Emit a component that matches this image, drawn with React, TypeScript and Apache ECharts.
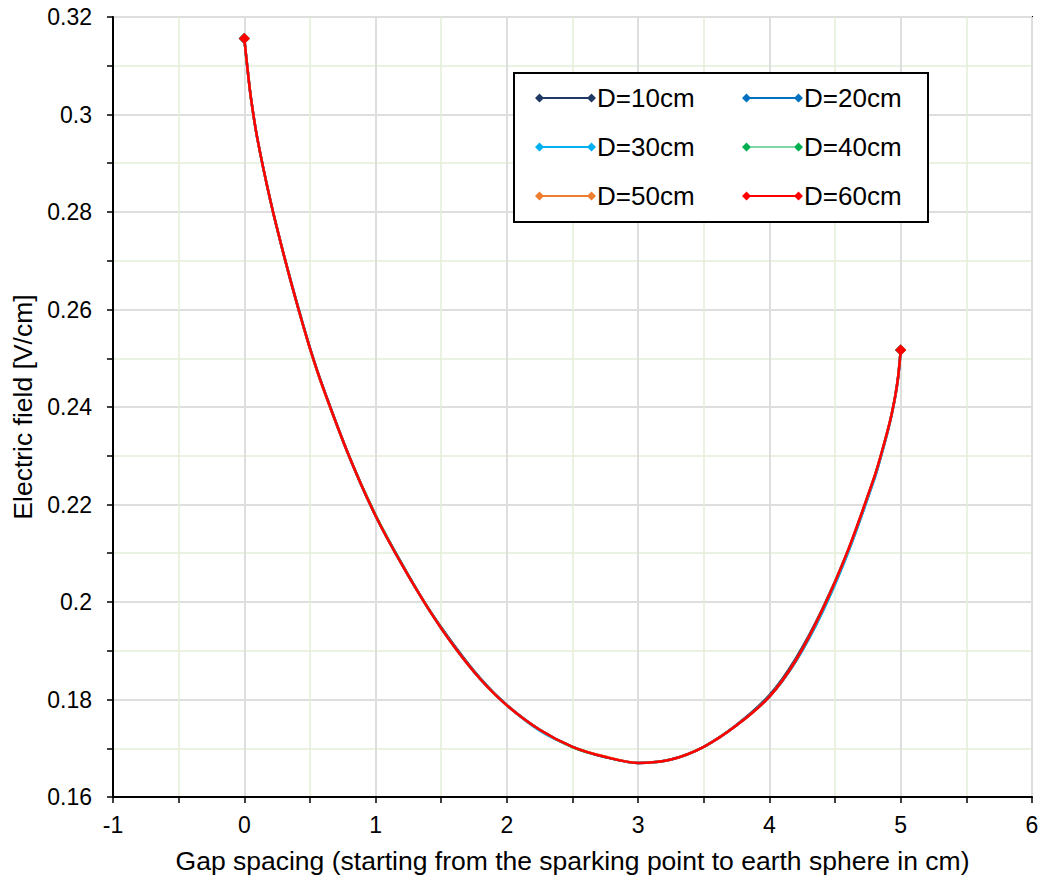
import React, { useEffect, useRef } from "react";
import * as echarts from "echarts";

const xValues = [0, 0.02, 0.05, 0.1, 0.2, 0.3, 0.4, 0.5, 0.6, 0.8, 1.0, 1.2, 1.4, 1.6, 1.8, 2.0, 2.25, 2.5, 2.75, 3.0, 3.25, 3.5, 3.75, 4.0, 4.2, 4.4, 4.6, 4.8, 4.85, 4.9, 4.93, 4.96, 4.98, 4.99, 5.0];

const d10 = [0.3156, 0.3105, 0.3035, 0.2950, 0.2822, 0.2713, 0.2613, 0.2521, 0.2440, 0.2298, 0.2177, 0.2077, 0.1988, 0.1911, 0.1843, 0.1789, 0.1738, 0.1703, 0.1682, 0.1670, 0.1677, 0.1703, 0.1748, 0.1809, 0.1884, 0.1984, 0.2107, 0.2257, 0.2302, 0.2351, 0.2384, 0.2425, 0.2461, 0.2487, 0.2517];
const d20 = [0.3156, 0.3105, 0.3035, 0.2950, 0.2822, 0.2713, 0.2613, 0.2521, 0.2440, 0.2298, 0.2177, 0.2079, 0.1987, 0.1908, 0.1841, 0.1788, 0.1738, 0.1703, 0.1682, 0.1670, 0.1677, 0.1703, 0.1747, 0.1806, 0.1878, 0.1978, 0.2103, 0.2253, 0.2299, 0.2349, 0.2383, 0.2424, 0.2460, 0.2486, 0.2517];
const d30 = [0.3156, 0.3105, 0.3035, 0.2950, 0.2822, 0.2713, 0.2615, 0.2521, 0.2440, 0.2298, 0.2177, 0.2077, 0.1987, 0.1908, 0.1841, 0.1788, 0.1736, 0.1703, 0.1682, 0.1670, 0.1677, 0.1703, 0.1747, 0.1806, 0.1878, 0.1977, 0.2102, 0.2253, 0.2299, 0.2349, 0.2383, 0.2424, 0.2460, 0.2486, 0.2517];
const d40 = [0.3156, 0.3105, 0.3035, 0.2950, 0.2822, 0.2713, 0.2613, 0.2521, 0.2440, 0.2300, 0.2181, 0.2080, 0.1989, 0.1909, 0.1841, 0.1788, 0.1738, 0.1701, 0.1681, 0.1670, 0.1677, 0.1703, 0.1747, 0.1806, 0.1880, 0.1982, 0.2107, 0.2257, 0.2302, 0.2351, 0.2384, 0.2425, 0.2461, 0.2487, 0.2517];
const d50 = [0.3156, 0.3105, 0.3035, 0.2950, 0.2822, 0.2713, 0.2613, 0.2519, 0.2438, 0.2298, 0.2177, 0.2077, 0.1987, 0.1908, 0.1841, 0.1788, 0.1738, 0.1703, 0.1683, 0.1670, 0.1677, 0.1703, 0.1747, 0.1806, 0.1880, 0.1982, 0.2107, 0.2257, 0.2302, 0.2351, 0.2384, 0.2425, 0.2461, 0.2487, 0.2517];
const d60 = [0.3156, 0.3105, 0.3035, 0.2950, 0.2822, 0.2713, 0.2613, 0.2521, 0.2440, 0.2298, 0.2177, 0.2077, 0.1987, 0.1908, 0.1841, 0.1788, 0.1738, 0.1703, 0.1682, 0.1670, 0.1677, 0.1703, 0.1747, 0.1806, 0.1880, 0.1982, 0.2107, 0.2257, 0.2302, 0.2351, 0.2384, 0.2425, 0.2461, 0.2487, 0.2517];

const seriesNames = ["D=10cm", "D=20cm", "D=30cm", "D=40cm", "D=50cm", "D=60cm"];
const seriesValues = [d10, d20, d30, d40, d50, d60];
const seriesColors = ["#1f3864", "#0070c0", "#00b0f0", "#00b050", "#ed7d31", "#ff0000"];
const seriesWidths = [2.5, 2.5, 2.5, 1.5, 2.5, 2.5];

const FONT = "'Liberation Sans', Arial, sans-serif";

const iconThick = "path://M0,4.5 L4.5,0 L9,4.5 L4.5,9 Z M52,4.5 L56.5,0 L61,4.5 L56.5,9 Z M4,3.5 L57,3.5 L57,5.5 L4,5.5 Z";
const iconThin = "path://M0,4.5 L4.5,0 L9,4.5 L4.5,9 Z M52,4.5 L56.5,0 L61,4.5 L56.5,9 Z M4,4 L57,4 L57,5 L4,5 Z";

export default function App() {
  const ref = useRef<HTMLDivElement>(null);
  useEffect(() => {
    if (!ref.current) return;
    const chart = echarts.init(ref.current, undefined, { renderer: "svg" });

    const series = seriesNames.map((name, si) => {
      const vals = seriesValues[si];
      const last = vals.length - 1;
      return {
        name,
        type: "line",
        smooth: 0.3,
        symbol: "diamond",
        symbolSize: 11,
        showAllSymbol: true,
        color: seriesColors[si],
        lineStyle: { width: seriesWidths[si], color: seriesColors[si] },
        itemStyle: { color: seriesColors[si] },
        data: xValues.map((x, i) =>
          i === 0 || i === last
            ? { value: [x, vals[i]] }
            : { value: [x, vals[i]], symbol: "none" }
        ),
        z: 2 + si * 0.01,
      };
    });

    const legendItem = (i: number) => ({
      name: seriesNames[i],
      icon: i === 3 ? iconThin : iconThick,
    });

    const legendCommon = {
      orient: "vertical",
      top: 84,
      padding: 0,
      itemWidth: 61,
      itemHeight: 9,
      itemGap: 21,
      selectedMode: false,
      symbolKeepAspect: false,
      itemStyle: { borderWidth: 0 },
      textStyle: { fontFamily: FONT, fontSize: 26, color: "#000", lineHeight: 28, padding: [0, 0, 0, -4] },
      z: 10,
    };

    chart.setOption({
      animation: false,
      backgroundColor: "#fff",
      textStyle: { fontFamily: FONT },
      grid: {
        left: 113,
        right: 12,
        top: 17,
        bottom: 85,
        show: true,
        borderColor: "#000",
        borderWidth: 2,
        backgroundColor: "transparent",
      },
      legend: [
        { ...legendCommon, left: 535, data: [0, 2, 4].map(legendItem) },
        { ...legendCommon, left: 742, data: [1, 3, 5].map(legendItem) },
      ],
      graphic: [
        {
          type: "rect",
          z: 3,
          shape: { x: 514, y: 73, width: 414, height: 149 },
          style: { fill: "#fff", stroke: "#000", lineWidth: 2 },
        },
      ],
      xAxis: {
        type: "value",
        min: -1,
        max: 6,
        interval: 1,
        name: "Gap spacing (starting from the sparking point to earth sphere in cm)",
        nameLocation: "middle",
        nameGap: 50,
        nameTextStyle: { fontFamily: FONT, fontSize: 26.5, color: "#000" },
        axisLine: { show: true, onZero: false, lineStyle: { color: "#000", width: 2 } },
        axisTick: { show: true, inside: false, length: 6, lineStyle: { color: "#000", width: 1.5 } },
        minorTick: { show: true, splitNumber: 2, length: 6, lineStyle: { color: "#000", width: 1.5 } },
        axisLabel: { fontFamily: FONT, fontSize: 23, color: "#000", margin: 16 },
        splitLine: { show: true, lineStyle: { color: "#dedede", width: 2 } },
        minorSplitLine: { show: true, lineStyle: { color: "#e3efd9", width: 1.5 } },
      },
      yAxis: {
        type: "value",
        min: 0.16,
        max: 0.32,
        interval: 0.02,
        name: "Electric field [V/cm]",
        nameLocation: "middle",
        nameGap: 77,
        nameTextStyle: { fontFamily: FONT, fontSize: 26.5, color: "#000" },
        axisLine: { show: true, onZero: false, lineStyle: { color: "#000", width: 2 } },
        axisTick: { show: true, inside: false, length: 6, lineStyle: { color: "#000", width: 1.5 } },
        minorTick: { show: true, splitNumber: 2, length: 6, lineStyle: { color: "#000", width: 1.5 } },
        axisLabel: { fontFamily: FONT, fontSize: 23, color: "#000", margin: 21 },
        splitLine: { show: true, lineStyle: { color: "#dedede", width: 2 } },
        minorSplitLine: { show: true, lineStyle: { color: "#e3efd9", width: 1.5 } },
      },
      series,
    });

    return () => chart.dispose();
  }, []);

  return (
    <div
      ref={ref}
      style={{ position: "fixed", left: 0, top: 0, width: 1044, height: 882 }}
    />
  );
}
